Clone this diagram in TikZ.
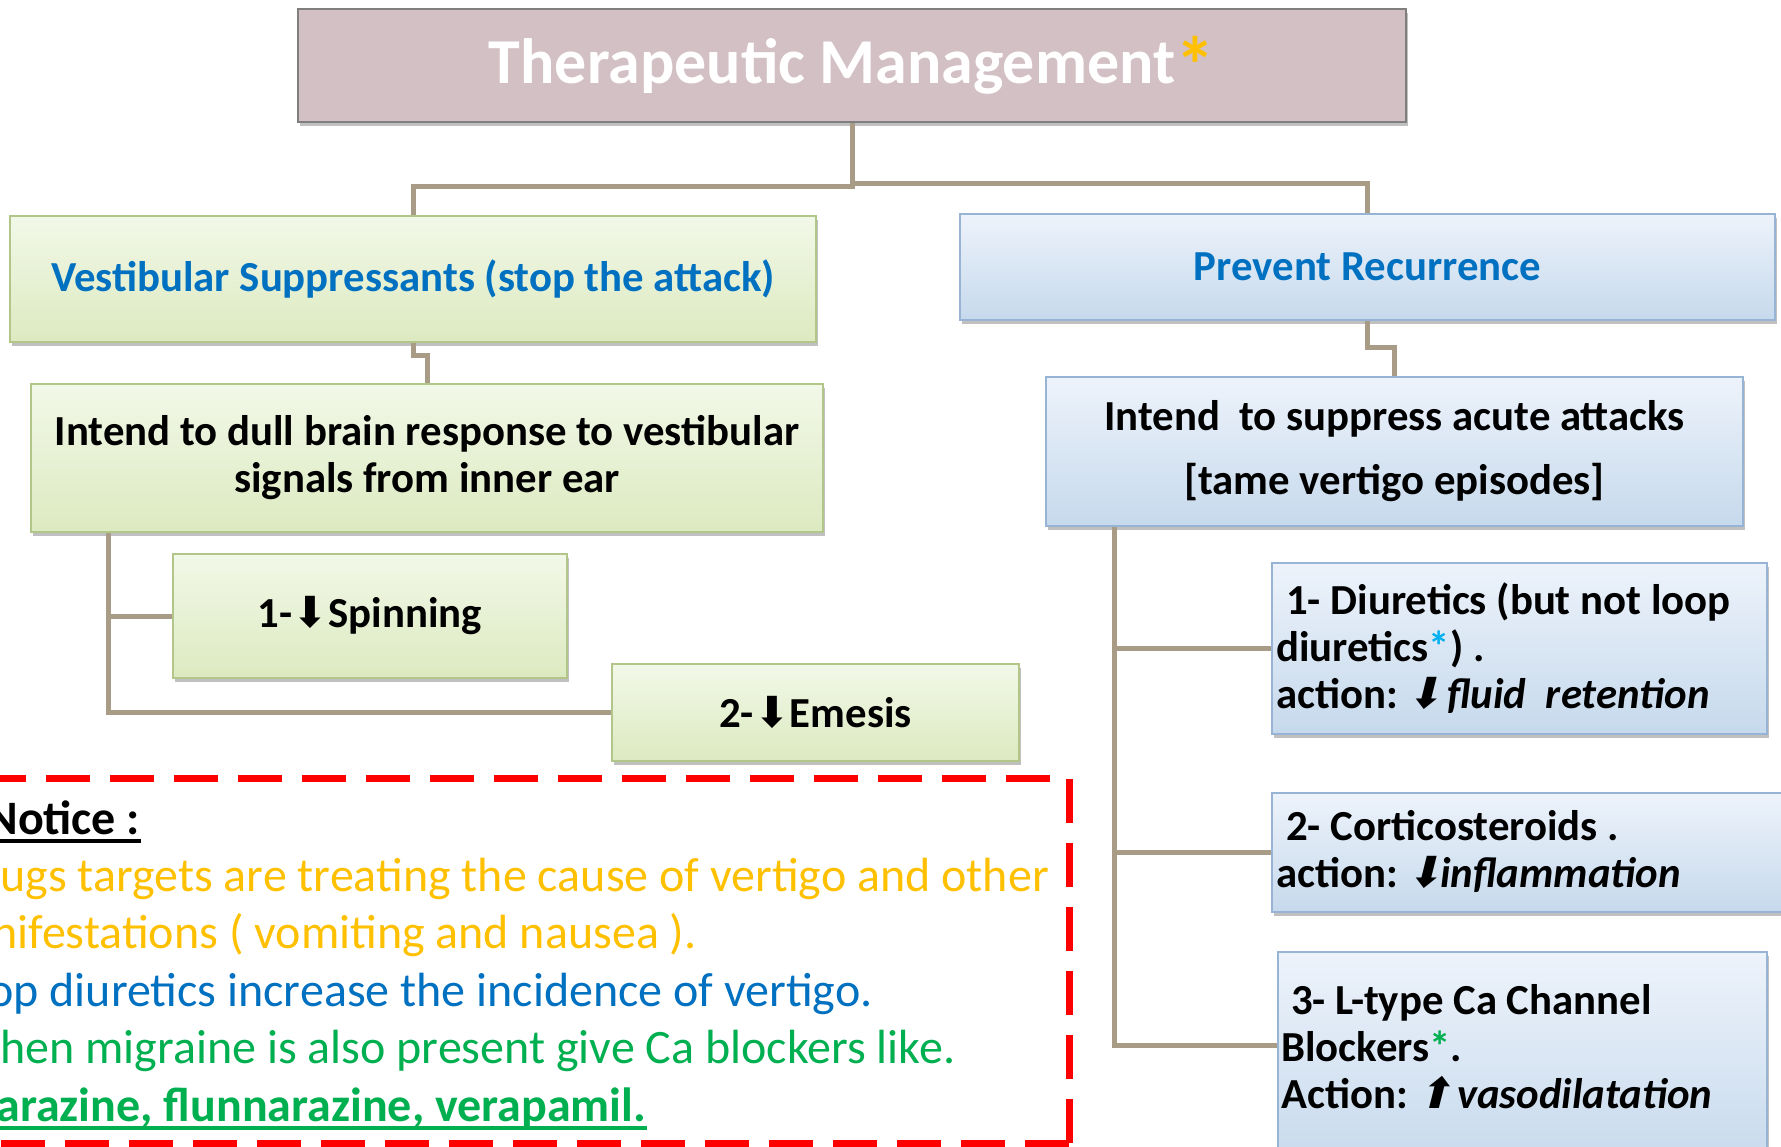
\documentclass[tikz,border=0pt]{standalone}
\usepackage{fontspec}
\setmainfont{Carlito}
\newfontfamily\arrowfont{DejaVu Sans}[BoldFont=DejaVu Sans,ItalicFont=DejaVu Sans,BoldItalicFont=DejaVu Sans]
\newfontfamily\arrowslant{DejaVu Sans}[FakeSlant=0.25,BoldFont=DejaVu Sans,BoldFeatures={FakeSlant=0.25},ItalicFont=DejaVu Sans,ItalicFeatures={FakeSlant=0.25},BoldItalicFont=DejaVu Sans,BoldItalicFeatures={FakeSlant=0.25}]
\usetikzlibrary{shadows}
\definecolor{titlefill}{HTML}{D2C0C4}
\definecolor{titledraw}{HTML}{7F7F7F}
\definecolor{gtop}{HTML}{F2F8E8}
\definecolor{gbot}{HTML}{DCEAC0}
\definecolor{gdraw}{HTML}{B2C68A}
\definecolor{btop}{HTML}{EDF3FB}
\definecolor{bbot}{HTML}{C6D9EC}
\definecolor{bdraw}{HTML}{98B4D4}
\definecolor{connc}{HTML}{A89C87}
\definecolor{blueT}{HTML}{0070C0}
\definecolor{orangeT}{HTML}{FFC000}
\definecolor{greenT}{HTML}{00B050}
\definecolor{cyanT}{HTML}{00B0F0}
\definecolor{redD}{HTML}{FF0000}
\newcommand{\dnarrow}{{\arrowfont ⬇}}
\newcommand{\dnslant}{{\kern-2.5pt\arrowslant ⬇\kern-1pt}}
\newcommand{\upslant}{{\kern-2.5pt\arrowslant ⬆\kern-1pt}}
\begin{document}
\begin{tikzpicture}[x=0.5pt,y=-0.5pt,
  shad/.style={drop shadow={shadow xshift=1.2pt,shadow yshift=-2pt,opacity=0.35,fill=black!70}},
  boxfont/.style={font=\fontsize{21.4}{23.5}\selectfont\bfseries},
  gbox/.style={shad,draw=gdraw,line width=1pt,top color=gtop,bottom color=gbot,inner sep=0pt,boxfont},
  bbox/.style={shad,draw=bdraw,line width=1pt,top color=btop,bottom color=bbot,inner sep=0pt,boxfont},
  btext/.style={anchor=west,align=left,inner sep=0pt,boxfont},
  tbox/.style={shad,draw=titledraw,line width=1pt,fill=titlefill,inner sep=0pt,text=white,font=\fontsize{32}{36}\selectfont\bfseries},
  conn/.style={draw=connc,line width=2.5pt},
  notice/.style={anchor=base west,inner sep=0pt,font=\fontsize{24}{28}\selectfont},
  uline/.style={line width=1.6pt}]
\useasboundingbox (0,0) rectangle (1781,1146);
\clip (0,0) rectangle (1781,1146);
\fill[white] (0,0) rectangle (1781,1146);

% boxes
\node[tbox,minimum width=554pt,minimum height=56.5pt] (title) at (852,65.5) {Therapeutic Management\raisebox{-5pt}{\textcolor{orangeT}{\fontsize{40}{40}\selectfont *}}};
\node[gbox,minimum width=403pt,minimum height=63pt,text=blueT] (vs) at (413,279) {Vestibular Suppressants (stop the attack)};
\node[bbox,minimum width=407.5pt,minimum height=53pt,text=blueT] (pr) at (1367.5,267) {Prevent Recurrence};
\node[gbox,minimum width=396pt,minimum height=74pt,align=center] (dull) at (427,458) {Intend to dull brain response to vestibular\\signals from inner ear};
\node[bbox,minimum width=348.5pt,minimum height=74.5pt,align=center] (supp) at (1394.5,451.5) {Intend\ \ to suppress acute attacks\\[8.5pt]{[tame vertigo episodes]}};
\node[gbox,minimum width=197pt,minimum height=62pt] (spin) at (370,616) {1-\dnarrow Spinning};
\node[gbox,minimum width=203.5pt,minimum height=48.5pt] (em) at (815.5,712.5) {2-\dnarrow Emesis};
\node[bbox,minimum width=247.5pt,minimum height=85.5pt] (d1) at (1519.5,648.5) {};
\node[btext] (d1t) at (1276,648.5) {\ 1- Diuretics (but not loop\\diuretics\textcolor{cyanT}{*}) .\\action: \dnslant\,\textit{fluid\ \ retention}};
\node[bbox,minimum width=264pt,minimum height=59.5pt] (d2) at (1536,852.5) {};
\node[btext] (d2t) at (1276,851.5) {\ 2- Corticosteroids .\\action: \dnslant\textit{inflammation}};
\node[bbox,minimum width=244.5pt,minimum height=109pt] (d3) at (1522.5,1061) {};
\node[btext] (d3t) at (1281,1047) {\ 3- L-type Ca Channel\\Blockers\textcolor{greenT}{*}.\\Action: \upslant\,\textit{vasodilatation}};

% connectors
\draw[conn] (title.south) -- ++(0,63) -| (vs.north);
\draw[conn] (title.south) -- ++(0,60) -| (pr.north);
\draw[conn] (vs.south) -- ++(0,12) -| (dull.north);
\draw[conn] (pr.south) -- ++(0,26) -| (supp.north);
\coordinate (lt) at ([xshift=39pt]dull.south west);
\draw[conn] (lt) |- (spin.west);
\draw[conn] (lt) |- (em.west);
\coordinate (rt) at ([xshift=34.5pt]supp.south west);
\coordinate (d3port) at ([yshift=-47pt]d3.north west);
\draw[conn] (rt) |- (d1.west);
\draw[conn] (rt) |- (d2.west);
\draw[conn] (rt) |- (d3port);

% notice box
\draw[redD,line width=3.5pt,dash pattern=on 22pt off 10pt] (1069,1143) -- (1069,778) -- (-20,778);
\draw[redD,line width=3.5pt,dash pattern=on 22pt off 10pt] (1069,1143) -- (-20,1143);
\node[notice] (n0) at (-14,834) {\bfseries Notice :};
\draw[uline] ([yshift=-3.5pt]n0.base west) -- ([yshift=-3.5pt]n0.base east);
\node[notice,text=orangeT] (n1) at (0,891) {\llap{Dr}ugs targets are treating the cause of vertigo and other};
\node[notice,text=orangeT] (n2) at (-8,948.5) {\llap{Ma}nifestations ( vomiting and nausea ).};
\node[notice,text=blueT] (n3) at (-12,1006) {\llap{Lo}op diuretics increase the incidence of vertigo.};
\node[notice,text=greenT] (n4) at (0,1063) {\llap{W}hen migraine is also present give Ca blockers like.};
\node[notice,text=greenT,font=\fontsize{24}{28}\selectfont\bfseries] (n5) at (-4,1121) {\llap{Cinn}arazine, flunnarazine, verapamil.};
\draw[uline,greenT] ([xshift=-20pt,yshift=-3.5pt]n5.base west) -- ([yshift=-3.5pt]n5.base east);
\end{tikzpicture}
\end{document}
